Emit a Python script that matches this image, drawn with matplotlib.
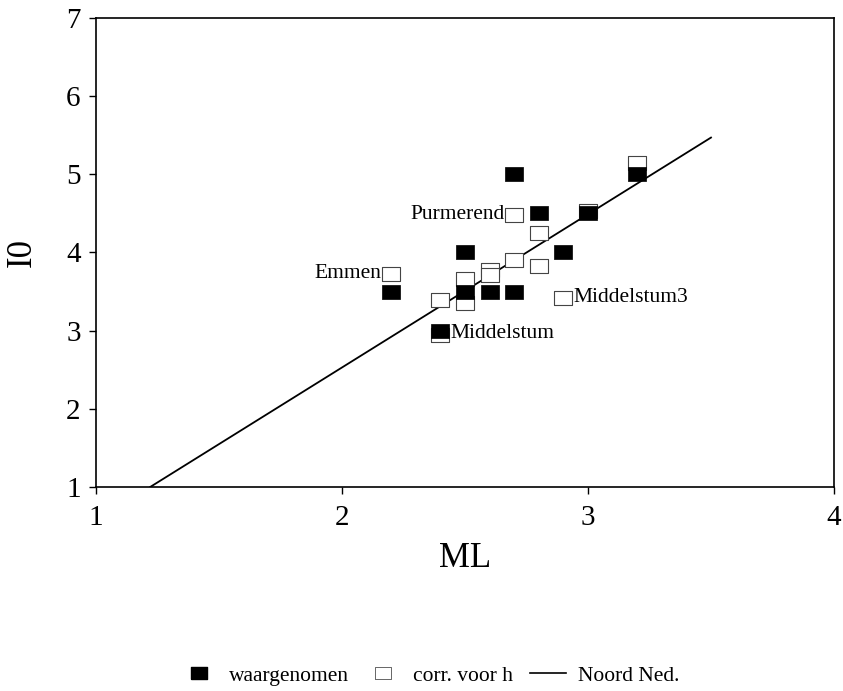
import matplotlib
matplotlib.use('Agg')
import matplotlib.pyplot as plt
from matplotlib.lines import Line2D

plt.rcParams['font.family'] = ['Liberation Serif', 'DejaVu Serif']

# waargenomen (observed)
obs_ml = [2.2, 2.5, 2.5, 2.6, 2.7, 2.7, 2.8, 2.9, 3.0, 3.2, 2.4]
obs_i0 = [3.5, 4.0, 3.5, 3.5, 3.5, 5.0, 4.5, 4.0, 4.5, 5.0, 3.0]

# corr. voor h (corrected for depth)
corr_ml = [2.2, 2.4, 2.5, 2.5, 2.6, 2.6, 2.7, 2.7, 2.8, 2.8, 2.9, 3.0, 3.2, 2.4]
corr_i0 = [3.73, 3.39, 3.66, 3.35, 3.77, 3.71, 3.9, 4.48, 4.25, 3.83, 3.42, 4.53, 5.15, 2.94]

# Noord Ned. relation
line_ml = [1.22, 3.5]
line_i0 = [1.0, 5.47]

labels = [
    ('Emmen', 2.2, 3.73, 'right'),
    ('Purmerend', 2.7, 4.48, 'right'),
    ('Middelstum3', 2.9, 3.42, 'left'),
    ('Middelstum', 2.4, 2.97, 'left'),
]

rect = [(-1, -0.78), (1, -0.78), (1, 0.78), (-1, 0.78), (-1, -0.78)]

fig = plt.figure(figsize=(8.43, 6.91), dpi=100)
ax = fig.add_axes([0.1139, 0.2952, 0.8754, 0.6788])

ax.plot(line_ml, line_i0, color='black', lw=1.3, zorder=1)
ax.scatter(corr_ml, corr_i0, marker=rect, s=150, facecolor='white',
           edgecolor='#444444', linewidths=0.8, zorder=2)
ax.scatter(obs_ml, obs_i0, marker=rect, s=150, facecolor='black',
           edgecolor='black', linewidths=0.5, zorder=3)

for name, x, y, ha in labels:
    dx = -7 if ha == 'right' else 7
    ax.annotate(name, (x, y), xytext=(dx, 0), textcoords='offset points',
                ha=ha, va='center', fontsize=15.5)

ax.set_xlim(1, 4)
ax.set_ylim(1, 7)
ax.set_xticks([1, 2, 3, 4])
ax.set_yticks([1, 2, 3, 4, 5, 6, 7])
ax.tick_params(labelsize=21, length=5, width=1, direction='out')
ax.tick_params(axis='x', pad=8)
ax.tick_params(axis='y', pad=6)
for s in ax.spines.values():
    s.set_linewidth(1.2)
ax.set_xlabel('ML', fontsize=25, labelpad=8)
ax.set_ylabel('I0', fontsize=25, labelpad=20)

handles = [
    Line2D([], [], marker=rect, ls='none', markersize=11, markerfacecolor='black',
           markeredgecolor='black'),
    Line2D([], [], marker=rect, ls='none', markersize=11, markerfacecolor='white',
           markeredgecolor='#666666', markeredgewidth=0.7),
    Line2D([], [], color='black', lw=1.2),
]
fig.legend(handles, ['waargenomen', 'corr. voor h', 'Noord Ned.'],
           loc='center', bbox_to_anchor=(0.51, 0.022), ncol=3, frameon=False,
           fontsize=15.5, handlelength=1.7, columnspacing=0.75, handletextpad=0.55)

fig.savefig('out.png', dpi=100)
